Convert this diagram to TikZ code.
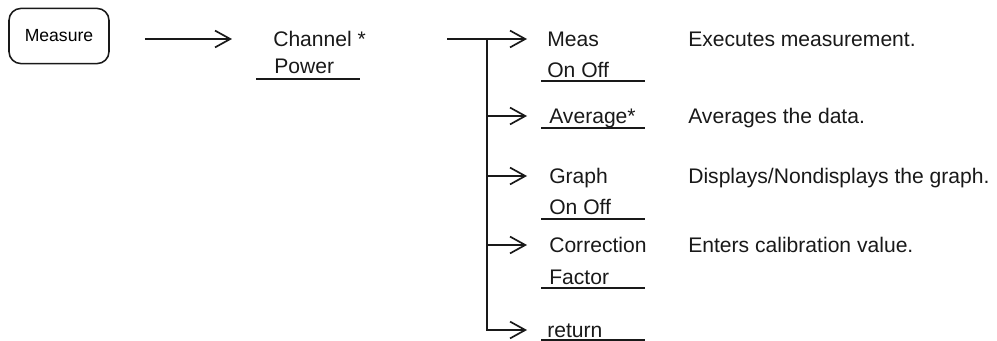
\documentclass[tikz,border=0pt]{standalone}
\usepackage{fontspec}
\setmainfont{Liberation Sans}
\usepackage{tikz}
\usetikzlibrary{arrows.meta,positioning}

\begin{document}
\begin{tikzpicture}[x=0.025cm, y=-0.025cm,
  key/.style={draw=black!90, line width=1.1pt, rounded corners=0.3cm,
              minimum width=2.5cm, minimum height=1.38cm,
              font=\fontsize{12.5}{14}\selectfont},
  soft/.style={anchor=west, inner sep=0pt, text height=10.7pt, text depth=0pt,
               text=black!90, font=\fontsize{15}{18}\selectfont},
  desc/.style={soft},
  rule/.style={line width=1.2pt, draw=black!90},
  arr/.style={-{Straight Barb[length=0.38cm, width=0.42cm, line width=1.2pt]},
              line width=1.2pt, draw=black!90}]
\useasboundingbox (0,0) rectangle (997,341);
% --- key and first menu ---
\node[key] (measure) at (59,36) {Measure};
\node[soft] (chan) at (273,39) {Channel *};
\node[soft] (chanb) at (274,66) {Power};
\draw[rule] (256,79) -- (360,79);
% --- softkey menu ---
\node[soft] (meas) at (547,39) {Meas};
\node[soft] (measb) at (547,70) {On Off};
\draw[rule] (541,81) -- (645,81);
\node[soft] (avg) at (549,116) {Average*};
\draw[rule] (541,128) -- (645,128);
\node[soft] (graph) at (549,176) {Graph};
\node[soft] (graphb) at (549,207) {On Off};
\draw[rule] (541,219) -- (645,219);
\node[soft] (corr) at (549,245) {Correction};
\node[soft] (corrb) at (549,277) {Factor};
\draw[rule] (541,288) -- (645,288);
\node[soft] (ret) at (547,330) {return};
\draw[rule] (541,340) -- (645,340);
% --- descriptions ---
\node[desc] (dmeas) at (688,39) {Executes measurement.};
\node[desc] (davg) at (688,116) {Averages the data.};
\node[desc] (dgraph) at (688,176) {Displays/Nondisplays the graph.};
\node[desc] (dcorr) at (688,245) {Enters calibration value.};
% --- arrows ---
\coordinate (src) at (447,39);
\coordinate (fork) at (487,39);
\draw[arr, shorten <=0.875cm, shorten >=1.025cm] (measure.east |- chan.west) -- (chan.west);
\draw[arr, shorten >=0.5cm] (src) -- (meas.west);
\draw[arr, shorten >=0.5cm] (fork) |- (ret.west);
\draw[arr, shorten >=0.55cm] (fork |- avg.west) -- (avg.west);
\draw[arr, shorten >=0.55cm] (fork |- graph.west) -- (graph.west);
\draw[arr, shorten >=0.55cm] (fork |- corr.west) -- (corr.west);
\end{tikzpicture}
\end{document}
